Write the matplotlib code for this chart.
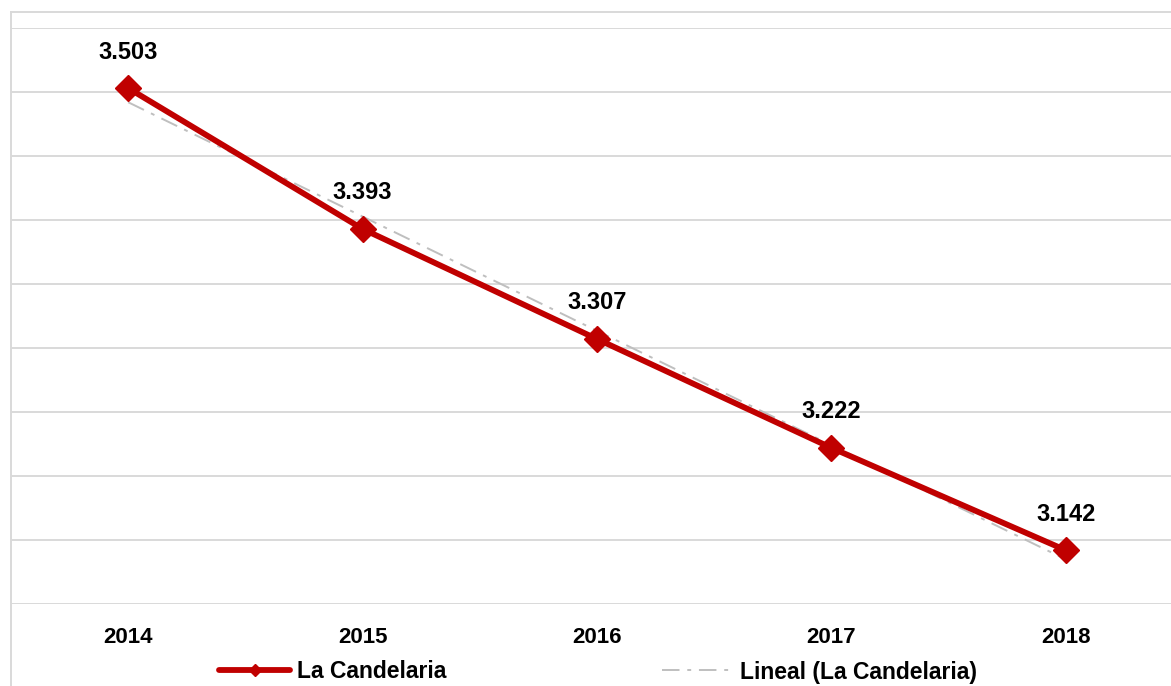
import numpy as np
import matplotlib
matplotlib.use("Agg")
import matplotlib.pyplot as plt
from matplotlib.lines import Line2D

years = ["2014", "2015", "2016", "2017", "2018"]
values = [3503, 3393, 3307, 3222, 3142]
series_name = "La Candelaria"
trend_name = "Lineal (La Candelaria)"

plt.rcParams['font.family'] = ['Liberation Sans', 'DejaVu Sans']
plt.rcParams['font.weight'] = 'bold'

W, H = 1171, 686
fig = plt.figure(figsize=(W / 100, H / 100), dpi=100)
ax = fig.add_axes([11 / W, (H - 604) / H, (1183 - 11) / W, (604 - 28) / H])

x = np.arange(len(years))
red = "#C00000"
grid = "#D9D9D9"

ax.set_ylim(3100, 3550)
ax.set_xlim(-0.5, len(years) - 0.5)
ax.set_yticks(np.arange(3100, 3551, 50))
ax.yaxis.grid(True, color=grid, linewidth=1.4)
ax.set_axisbelow(True)
ax.tick_params(axis='y', left=False, labelleft=False)
ax.tick_params(axis='x', bottom=False, labelsize=16, pad=13)
ax.set_xticks(x)
ax.set_xticklabels(years, fontweight='bold')
for s in ax.spines.values():
    s.set_visible(False)

# trend line
coef = np.polyfit(x, values, 1)
trend = np.polyval(coef, x)
tl, = ax.plot(x, trend, color="#BFBFBF", linewidth=1.4,
              linestyle=(0, (9, 4, 2, 4)), zorder=2)

sl, = ax.plot(x, values, color=red, linewidth=4.2, marker='D', markersize=13,
              zorder=3, solid_capstyle='round')

for xi, v in zip(x, values):
    ax.annotate(f"{v:,}".replace(",", "."), (xi, v), xytext=(0, 26),
                textcoords='offset points', ha='center', va='center',
                fontsize=17, fontweight='bold', color='black')

# chart border lines
fig.add_artist(Line2D([11 / W, 11 / W], [0, 1 - 12 / H], transform=fig.transFigure,
                      color=grid, linewidth=1.4))
fig.add_artist(Line2D([11 / W, 1], [1 - 12 / H, 1 - 12 / H], transform=fig.transFigure,
                      color=grid, linewidth=1.4))

fig.legend([sl, tl], [series_name, trend_name], ncol=2, loc='center',
           bbox_to_anchor=(598 / W, 14 / H), frameon=False,
           prop={'size': 16.5, 'weight': 'bold'}, handlelength=3.1,
           handletextpad=0.3, columnspacing=9.4, markerscale=0.45)

fig.savefig("out.png", dpi=100)
